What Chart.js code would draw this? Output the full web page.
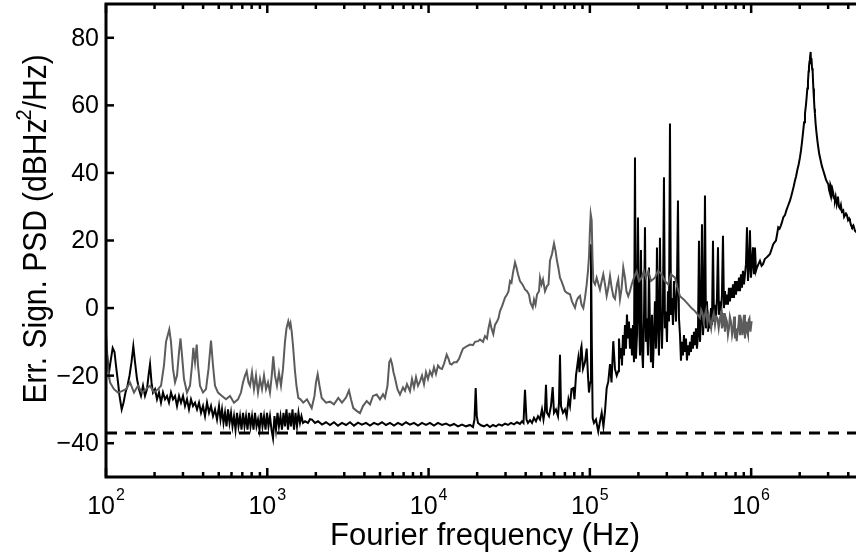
<!DOCTYPE html>
<html><head><meta charset="utf-8">
<script src="https://cdn.jsdelivr.net/npm/chart.js@4/dist/chart.umd.min.js"></script>
<style>html,body{margin:0;padding:0;background:#fff;overflow:hidden}canvas{display:block}</style>
</head><body>
<canvas id="c" width="856" height="559"></canvas>
<script>
// ---- text ----
const xTitle = "Fourier frequency (Hz)";
const yTitleParts = ["Err. Sign. PSD (dBHz", "2", "/Hz)"];
// ---- axes ----
const xRange = [100, 4.467e6];
const yRange = [-50, 90];
const yTickValues = [-40, -20, 0, 20, 40, 60, 80];
const xTickExponents = [2, 3, 4, 5, 6];
// ---- detection floor (dashed) ----
const floorHz = [100, 4.6e6];
const floorDb = [-37, -37];
// ---- grey trace [Hz, dB] ----
const greyTrace = [[100,-7],[102.9,-18],[105.9,-22],[112.1,-24],[118.7,-25],[125.6,-24.6],[133,-24],[140.9,-22],[149.1,-25],[157.9,-23],[167.2,-25],[177,-24],[187.5,-23],[198.5,-25],[210.1,-24],[219.3,-23],[228.8,-17],[235.5,-10],[246.9,-6.3],[252.9,-10],[260.3,-18],[267.9,-22],[275.6,-20],[283.6,-13],[289.7,-9],[296,-14],[304.5,-21],[317.8,-25],[331.7,-23],[341.4,-17],[347.8,-11.8],[356.4,-16],[365.1,-10.8],[371.9,-17],[382.7,-23],[399.5,-25],[416.9,-24],[432.1,-18],[447.7,-9.6],[460.7,-17],[474,-23],[494.8,-25],[523.8,-26],[554.6,-27],[587.2,-26],[621.6,-28],[658.2,-27],[687,-25],[707,-22],[727.4,-20],[745.3,-18.7],[764.7,-22],[781.3,-23],[803.9,-19],[827.2,-24],[851.1,-20],[875.8,-25],[901.2,-21],[927.3,-24],[954.1,-20],[981.8,-24],[1010,-22],[1039,-25],[1066,-20],[1089,-14.3],[1116,-20],[1148,-23],[1181,-19.2],[1216,-23],[1251,-18],[1287,-10],[1315,-6],[1349,-3.9],[1373,-5.5],[1393,-4.5],[1417,-7],[1443,-11],[1485,-18.7],[1517,-23],[1557,-26.6],[1606,-27],[1672,-28],[1762,-27],[1885,-29.6],[1962,-26],[2004,-22],[2053,-19.6],[2107,-23],[2175,-26.6],[2312,-28],[2448,-27.7],[2591,-28.5],[2755,-26.6],[2905,-28],[3076,-26.5],[3210,-24.4],[3303,-27],[3414,-29.6],[3598,-30.5],[3756,-31.1],[3920,-29],[4133,-27.5],[4333,-28.5],[4522,-26],[4769,-25.6],[4999,-27],[5217,-25.5],[5367,-26.6],[5562,-23],[5707,-16],[5823,-15.2],[5931,-16.5],[6059,-19],[6190,-20.7],[6414,-24],[6648,-25.6],[6939,-23.5],[7139,-24.5],[7346,-22.5],[7669,-24.6],[7892,-21],[8121,-23.5],[8356,-20.5],[8599,-23],[8846,-21.7],[9103,-20],[9366,-22.5],[9636,-19],[9915,-21],[10200,-18.7],[10500,-20],[10800,-17.5],[11110,-19.5],[11440,-17],[11770,-17.8],[12110,-18],[12460,-16.5],[12950,-13.8],[13290,-15],[13580,-16.5],[13910,-16.7],[14370,-16],[14940,-16],[15440,-15],[15880,-13.5],[16350,-12],[17230,-11.3],[18060,-10.8],[18850,-11],[19400,-10],[20250,-9.8],[20830,-9.3],[21740,-10],[22370,-8.3],[23020,-9],[23520,-6],[24030,-3.9],[24550,-6],[25190,-7.7],[25800,-5],[26550,-4],[27130,-3],[27720,-0.9],[28520,0.5],[29770,3.1],[30630,4],[31300,5],[31980,8],[32660,7.5],[33380,10.5],[34340,13.5],[35080,12],[35840,10],[36870,8],[38210,7],[39600,5.5],[40750,5],[41930,4],[42840,1.5],[44220,0.1],[45040,2.5],[46010,1],[47010,4],[48380,5],[49070,9],[50120,7],[51210,8.5],[52690,5],[54220,6.5],[55390,7],[56590,14],[58230,16],[59920,19.1],[61220,17],[62540,14],[63720,12],[65270,9],[66680,8],[68420,6.5],[70100,5],[72130,4.5],[75290,4.1],[77470,2],[79150,1],[80860,0.1],[82610,2],[84400,3],[86850,3.6],[88730,1],[91050,0],[93270,3],[95550,7],[97340,11],[98740,15],[100100,23],[101200,27.8],[102600,26],[103800,15],[105000,8],[107600,7],[110200,9],[113100,7],[115500,5.5],[118400,8],[121100,10],[124100,7],[127100,3.6],[130100,6],[133300,9.5],[136500,6],[140100,3.3],[143100,2.7],[147200,7],[150000,8.5],[153700,2.6],[157400,6],[161100,12],[165100,9],[168600,5],[173000,3.5],[177300,5],[181600,7],[187700,9],[195100,10.9],[201600,8],[209500,9],[216500,11],[222800,9],[230200,10.9],[239300,8],[253300,9],[264500,11],[278700,10],[292200,8],[306300,7],[318300,10],[337000,9],[349300,6],[362100,3.5],[383100,2.5],[407400,1.1],[426600,0],[448400,-0.9],[468000,-2],[481600,-2.9],[490000,-0.5],[498900,-1.5],[508000,-4],[516900,-2],[526000,-0.5],[535800,-4.5],[545000,-2],[555400,-3.9],[565000,-6],[575400,-3],[586000,-1.5],[596700,-5],[607000,-2.5],[618000,-3],[629000,-6],[640500,-3],[650000,-1.5],[659000,-6],[665000,-2.5],[671400,-3.8],[680000,-1.5],[688000,-7],[698000,-3],[707900,-4],[718000,-8],[728500,-6],[738000,-2.5],[749700,-4],[762000,-8],[774800,-5.9],[784000,-2.5],[793800,-9],[803000,-6],[813200,-9.8],[824000,-7],[834400,-5],[843000,-2],[852400,-8],[861000,-5],[870800,-4],[882000,-8],[893400,-5.9],[904000,-2],[915500,-9],[925000,-6],[935300,-4],[945000,-7],[955600,-8],[966000,-3.5],[976100,-3],[990000,-7],[1007000,-3.9]];
// ---- black trace [Hz, dB] ----
const blackTrace = [[100,-17],[102.2,-15],[104.4,-19],[106.6,-16],[110,-11.8],[112.9,-13],[115.3,-17],[118.7,-22],[121.3,-26],[125.1,-30],[128.4,-28],[132.1,-25],[135.9,-23],[139.9,-20],[143.9,-16],[147.7,-11.3],[151.3,-16],[155.7,-21],[160.2,-24],[164.8,-26],[169.6,-23],[174.5,-26],[179.6,-24],[183.5,-20],[187.5,-16.6],[191.5,-22],[195.6,-25],[201.3,-24],[207.1,-27],[213.1,-25],[219.3,-28],[225.6,-25],[232.2,-27],[238.9,-26],[245.8,-28],[252.9,-25],[260.3,-27],[267.9,-26],[275.6,-29],[283.6,-26],[291.7,-28],[300.2,-26],[308.9,-29],[317.8,-27],[327,-30],[336.5,-27],[346.3,-29],[356.4,-28],[366.7,-30],[377.3,-28],[388.2,-31],[399.5,-29],[411,-32],[422.9,-28],[435.2,-31],[447.7,-29],[460.7,-32],[474,-30],[487.8,-33],[501.9,-29],[512.8,-33],[523.8,-30],[535.2,-34],[546.8,-31],[558.7,-35],[570.8,-30],[583.2,-34],[595.7,-31],[608.6,-35],[621.6,-32],[635.2,-36],[649,-31],[663,-35],[677.4,-32],[692.1,-36],[707,-31],[722.3,-35],[737.9,-32],[753.9,-36],[770.3,-31],[787,-35],[803.9,-32],[821.3,-36],[839.1,-31],[857.3,-35],[875.8,-33],[894.8,-36],[914.2,-31],[934,-35],[954.1,-32],[974.8,-36],[995.9,-31],[1017,-35],[1039,-32],[1062,-36],[1085,-38.5],[1108,-32],[1132,-36],[1157,-31],[1181,-35],[1207,-32],[1233,-36],[1260,-31],[1287,-35],[1315,-30],[1344,-36],[1373,-31],[1403,-35],[1433,-30],[1464,-36],[1496,-31],[1528,-35],[1561,-31],[1595,-34],[1629,-32],[1665,-34],[1713,-33.5],[1788,-34],[1840,-32.9],[1893,-33],[1976,-34],[2063,-33.5],[2184,-34.5],[2312,-33.8],[2448,-34.6],[2591,-33.8],[2743,-34.8],[2905,-34],[3076,-34.6],[3256,-33.8],[3447,-34.8],[3650,-33.9],[3864,-34.5],[4092,-34],[4333,-34.8],[4587,-34],[4857,-34.5],[5142,-33.8],[5444,-34.6],[5764,-34],[6103,-34.8],[6462,-34],[6842,-34.6],[7244,-33.8],[7669,-34.5],[8121,-34],[8599,-34.8],[9103,-34],[9636,-34.6],[10200,-34],[10800,-34.8],[11440,-34],[12110,-34.6],[12820,-34.2],[13580,-34.8],[14370,-34.3],[15220,-35],[16110,-34.5],[17060,-35],[18060,-34.6],[18850,-35.2],[19260,-33],[19590,-23.7],[19900,-32],[20250,-34],[21130,-34.7],[22060,-35],[23020,-34.5],[24030,-35.2],[25080,-34.6],[26180,-35],[27320,-34.4],[28520,-34.8],[29770,-34.2],[31070,-34.6],[32430,-34],[33850,-34.4],[35330,-33.8],[36870,-34.3],[37940,-33.5],[38760,-34],[39600,-24.2],[40460,-33],[41330,-34],[42550,-33.2],[43780,-34],[45040,-32.5],[46330,-33.5],[47680,-32],[49070,-33],[50470,-30],[51570,-33],[52690,-30],[53450,-22.7],[54220,-31],[55760,-32],[57380,-29],[58800,-23.4],[59920,-31],[61640,-30],[63430,-32],[64340,-28],[65270,-13.8],[66210,-29],[68110,-31],[70100,-30],[71810,-32],[73670,-27],[75290,-29],[76910,-24],[78920,-23.7],[80280,-27],[82020,-20],[84770,-14.8],[86230,-19],[88100,-12],[88730,-11.3],[90640,-18],[93270,-16],[95550,-12],[97340,-20],[98740,-25],[100400,-22],[101600,18.9],[102800,-10],[104100,-32.6],[106000,-34],[109100,-33],[112700,-36.5],[115500,-33.6],[118400,-31],[121400,-35],[124100,-30.6],[127100,-23.7],[130100,-21.7],[133300,-16.6],[136200,-22],[139700,-9.8],[143100,-18],[146700,-20],[150000,-18.7],
[151500,-9],[153700,-15],[155900,-11.8],[158100,-17],[160400,-8],[162700,-14],[165100,-5],[167400,-12],[169800,-1.9],[172300,-9],[174700,-4],[177300,-12],[179800,-6],[182400,-14],[185000,-5],[187700,-16],[190400,44.6],[193100,-15],[195900,-8],[198700,26.8],[201600,-3],[204500,-14],[207400,17.2],[210400,-12],[213400,-17.7],[216500,-4],[219600,23.9],[222800,-10],[225900,-3],[229200,-14],[232500,12],[235800,-6],[239200,-16],[242700,-2],[246100,-17.7],[249700,-8],[253300,2],[256900,-12],[260600,17.9],[264400,-6],[268200,-14],[272000,20.8],[275900,-4],[279900,-12],[283900,0],[288000,38.7],[292100,-6],[296300,-1],[300600,-10],[304900,5],[309300,-4],[313800,54.6],[318300,-2],[322800,3],[327500,-5],[332200,8],[337000,2],[341800,-4],[346700,6],[351700,31.8],[356800,-3],[361900,-7.8],[367100,-15.6],[372400,-10],[377700,-14],[383200,-8],[388700,-13],[394300,-9],[399900,-15.5],[405700,-11],[411500,-14],[417400,-10],[423400,-13],[429500,-8],[435700,-12],[442000,-7],[448300,-11],[454800,-6],[461300,-12],[467900,-8],[474700,19.9],[481500,-10],[488400,-4],[495500,24.8],[502600,-8],[509800,-3],[517200,33.3],[524600,-6],[532100,2],[539800,-7],[547600,-3],[555400,-6],[563400,0],[571500,-5],[579800,19.9],[588100,-4],[596600,1],[605100,-3],[613800,3],[622700,18],[631600,-2],[640700,2],[649900,-1],[659200,4],[668700,21.4],[678400,0],[688100,5],[698000,1],[707900,4],[718100,1],[728400,6],[738900,2],[749600,6],[760300,3],[771300,7],[782400,3],[793700,8],[805100,4],[816600,8],[828400,5],[840300,9],[852400,5],[864700,10],[877100,6],[889700,11],[902500,7],[915500,10],[928700,13],[942000,23.9],[955400,8],[969200,12],[983100,23],[997200,9],[1011600,13],[1026000,18],[1041000,10],[1056000,17.9],[1071000,11],[1086000,12],
[1110000,13],[1134000,14],[1160000,12.5],[1184000,13],[1215000,14.5],[1248000,15],[1278000,15.5],[1308000,16],[1340000,17.5],[1371000,18.9],[1400000,19.5],[1425000,20],[1450000,22],[1472000,23.9],[1500000,23.5],[1530000,24.5],[1555000,25.5],[1581000,26.8],[1620000,27.5],[1655000,29],[1700000,30.5],[1740000,31.8],[1770000,33],[1803000,34.5],[1835000,36],[1868000,37.7],[1900000,39],[1936000,41],[1970000,42.5],[2007000,44.6],[2035000,46.5],[2065000,49],[2104000,52.6],[2130000,55],[2156000,57.5],[2185000,60],[2209000,62.5],[2230000,65],[2250000,67],[2270000,70],[2282000,71.4],[2300000,73],[2315000,74],[2338000,75.8],[2350000,72.5],[2365000,74],[2385000,71],[2406000,70],[2430000,65],[2451000,62],[2470000,59],[2486000,57.5],[2510000,54.5],[2540000,52],[2575000,49.5],[2606000,47.6],[2645000,45.5],[2689000,44],[2745000,42],[2799000,40.7],[2850000,39.5],[2910000,38],[2960000,37.2],[3006000,36.7],[3040000,35],[3080000,34],[3100000,36.5],[3124000,36],[3160000,33.5],[3195000,35],[3228000,34],[3265000,32.5],[3307000,32],[3340000,33],[3389000,30.8],[3420000,32],[3452000,33],[3500000,30],[3553000,29.5],[3600000,30.5],[3650000,28.5],[3724000,28.9],[3770000,27],[3815000,27],[3870000,28],[3926000,27.5],[3990000,26],[4050000,26.5],[4100000,25.8],[4160000,24.5],[4218000,24],[4300000,24.5],[4401000,22.9],[4593000,22]];

const FONT = '"Liberation Sans", Arial, Helvetica, sans-serif';
const toXY = arr => arr.map(([f, v]) => ({x: f, y: v}));

const framePlugin = {
  id: 'frame',
  beforeDraw(chart) {
    const ctx = chart.ctx;
    ctx.save(); ctx.fillStyle = '#fff'; ctx.fillRect(0, 0, chart.width, chart.height); ctx.restore();
  },
  afterDraw(chart) {
    const {ctx, chartArea: a, scales: {x, y}} = chart;
    const seg = (x1, y1, x2, y2) => { ctx.beginPath(); ctx.moveTo(x1, y1); ctx.lineTo(x2, y2); ctx.stroke(); };
    ctx.save();
    ctx.strokeStyle = '#000';
    ctx.lineWidth = 3;
    ctx.beginPath();
    ctx.moveTo(a.right + 2, a.top); ctx.lineTo(a.left, a.top);
    ctx.lineTo(a.left, a.bottom); ctx.lineTo(a.right + 2, a.bottom);
    ctx.stroke();
    ctx.lineWidth = 2.5;
    yTickValues.forEach(v => { const py = y.getPixelForValue(v); seg(a.left, py, a.left + 8, py); });
    for (let e = xTickExponents[0]; e <= 7; e++) {
      for (let m = 1; m <= 9; m++) {
        const f = m * Math.pow(10, e);
        if (f > xRange[1]) break;
        const px = x.getPixelForValue(f);
        const len = m === 1 ? 9 : 5;
        seg(px, a.bottom, px, a.bottom - len);
        seg(px, a.top, px, a.top + len);
      }
    }
    ctx.fillStyle = '#000';
    ctx.font = '25px ' + FONT;
    ctx.textAlign = 'right'; ctx.textBaseline = 'middle';
    yTickValues.forEach(v => {
      const txt = v < 0 ? '\u2212' + Math.abs(v) : String(v);
      ctx.fillText(txt, a.left - 7, y.getPixelForValue(v) + 1);
    });
    ctx.textBaseline = 'alphabetic'; ctx.textAlign = 'left';
    xTickExponents.forEach(e => {
      const px = x.getPixelForValue(Math.pow(10, e));
      ctx.font = '25px ' + FONT;
      const wb = ctx.measureText('10').width;
      ctx.font = '16px ' + FONT;
      const we = ctx.measureText(String(e)).width;
      const x0 = px - (wb + we + 1) / 2;
      ctx.font = '25px ' + FONT;
      ctx.fillText('10', x0, 514);
      ctx.font = '16px ' + FONT;
      ctx.fillText(String(e), x0 + wb + 1, 500);
    });
    ctx.font = '31px ' + FONT;
    ctx.textAlign = 'center';
    ctx.fillText(xTitle, 485, 545);
    ctx.save();
    ctx.translate(46, 228);
    ctx.rotate(-Math.PI / 2);
    ctx.textAlign = 'left';
    const bigF = '33px ' + FONT, supF = '22px ' + FONT;
    ctx.font = bigF; const w1 = ctx.measureText(yTitleParts[0]).width, w3 = ctx.measureText(yTitleParts[2]).width;
    ctx.font = supF; const w2 = ctx.measureText(yTitleParts[1]).width;
    const total = w1 + w2 + w3;
    const sx = 351 / total;
    ctx.scale(sx, 1);
    let cx = -total / 2;
    ctx.font = bigF; ctx.fillText(yTitleParts[0], cx, 0); cx += w1;
    ctx.font = supF; ctx.fillText(yTitleParts[1], cx - 2, -15); cx += w2;
    ctx.font = bigF; ctx.fillText(yTitleParts[2], cx - 2, 0);
    ctx.restore();
    ctx.restore();
  }
};

new Chart(document.getElementById('c'), {
  type: 'line',
  data: {
    datasets: [
      { label: 'grey', data: toXY(greyTrace), borderColor: '#5c5c5c', borderWidth: 2, pointRadius: 0, tension: 0, fill: false },
      { label: 'black', data: toXY(blackTrace), borderColor: '#000000', borderWidth: 2, pointRadius: 0, tension: 0, fill: false },
      { label: 'floor', data: floorHz.map((f, i) => ({x: f, y: floorDb[i]})), borderColor: '#000000', borderWidth: 3, borderDash: [11, 8], pointRadius: 0, tension: 0, fill: false }
    ]
  },
  options: {
    responsive: false,
    devicePixelRatio: 1,
    animation: false,
    events: [],
    layout: { padding: { left: 106, top: 4, right: 0, bottom: 82 } },
    plugins: { legend: { display: false }, tooltip: { enabled: false }, title: { display: false } },
    scales: {
      x: { type: 'logarithmic', min: xRange[0], max: xRange[1], display: false },
      y: { type: 'linear', min: yRange[0], max: yRange[1], display: false }
    }
  },
  plugins: [framePlugin]
});
</script>
</body></html>
